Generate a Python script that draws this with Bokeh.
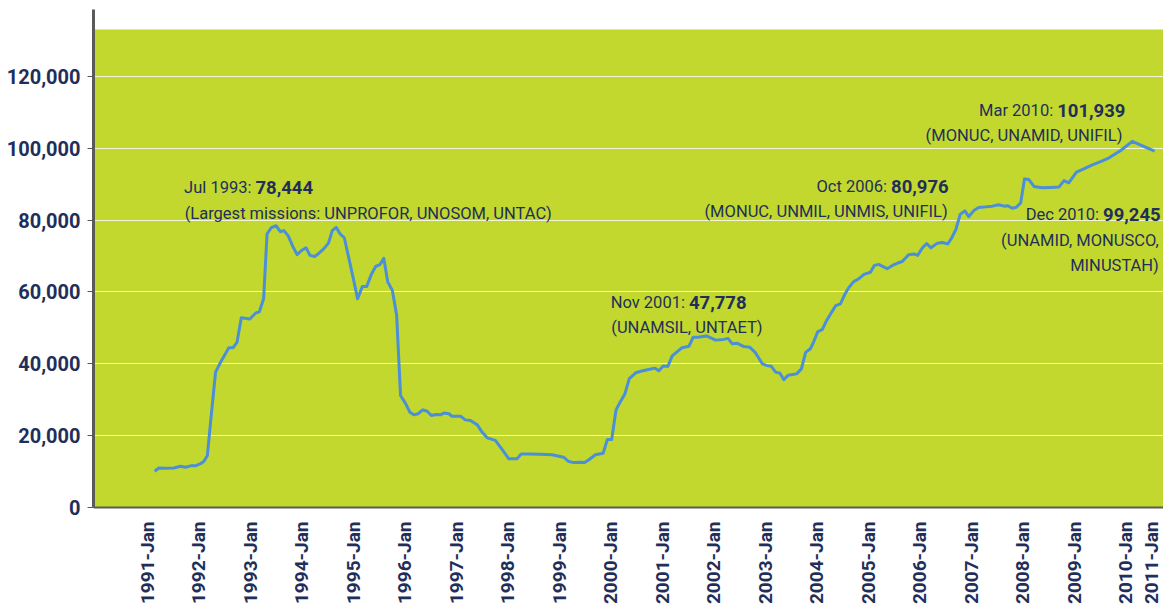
import math
from bokeh.plotting import figure
from bokeh.models import Range1d, BoxAnnotation, FixedTicker, NumeralTickFormatter
from bokeh.core.properties import value
from bokeh.embed import file_html
from bokeh.resources import INLINE

# ---------------- data ----------------
# x: position in months, counted from the "1991-Jan" category label
months = [1.7, 2.7, 4.2, 6.2, 7.7, 8.9, 10.1, 11.2, 12.4, 13.2,
          14.0, 14.7, 15.9, 17.1, 19.0, 20.0, 20.9, 21.9, 23.9, 25.2,
          26.1, 27.1, 27.9, 28.9, 30.0, 31.0, 31.8, 32.8, 33.9, 34.9,
          36.1, 37.0, 37.9, 39.0, 40.0, 41.1, 42.2, 43.1, 44.0, 44.9,
          45.9, 47.0, 48.1, 49.0, 50.1, 51.1, 52.2, 53.2, 54.2, 55.1,
          56.0, 57.1, 58.1, 59.0, 60.2, 61.2, 62.1, 63.1, 64.2, 65.2,
          66.2, 67.2, 68.3, 69.1, 70.3, 71.0, 73.0, 74.1, 75.3, 76.9,
          78.0, 79.2, 81.1, 82.7, 84.2, 86.2, 87.1, 88.5, 91.6, 94.3,
          97.0, 98.2, 99.4, 100.9, 101.9, 102.9, 104.4, 106.2, 107.2, 108.2,
          109.2, 110.2, 111.3, 112.3, 113.8, 115.2, 116.8, 118.3, 119.2, 120.2,
          121.3, 122.3, 123.5, 124.6, 126.2, 127.2, 128.3, 130.3, 132.4, 134.3,
          135.3, 136.3, 137.5, 139.0, 140.4, 141.7, 143.3, 144.4, 145.4, 146.4,
          147.4, 148.3, 149.3, 151.3, 152.4, 153.4, 154.5, 155.3, 156.2, 157.3,
          158.3, 159.2, 160.4, 161.5, 162.5, 163.5, 164.6, 165.8, 167.0, 168.5,
          169.4, 170.4, 172.4, 173.6, 174.7, 175.9, 177.4, 178.6, 179.5, 180.6,
          181.6, 182.6, 184.1, 185.2, 186.5, 187.4, 188.4, 189.4, 190.5, 191.4,
          192.6, 193.7, 195.4, 196.9, 198.4, 199.6, 200.5, 201.5, 202.5, 203.5,
          204.4, 205.4, 206.6, 208.5, 210.5, 212.4, 213.6, 214.7, 216.5, 218.2,
          220.2, 222.1, 224.0, 226.8, 229.5, 234.7]

# troops, in thousands
troops_k = [10.1, 11.0, 10.9, 11.0, 11.5, 11.2, 11.6, 11.6, 12.2, 12.9,
            14.5, 23.3, 37.7, 40.5, 44.5, 44.5, 46.0, 52.8, 52.5, 54.1,
            54.5, 58.1, 76.2, 77.9, 78.444, 76.8, 77.1, 75.7, 72.7, 70.4,
            71.7, 72.3, 70.2, 69.9, 70.8, 72.0, 73.6, 77.1, 78.0, 76.2,
            75.1, 69.2, 63.2, 58.1, 61.5, 61.5, 64.9, 67.1, 67.6, 69.4,
            62.9, 60.4, 53.5, 31.2, 28.9, 26.5, 25.8, 26.1, 27.2, 26.8,
            25.6, 25.9, 25.8, 26.3, 26.1, 25.4, 25.4, 24.4, 24.2, 23.0,
            21.0, 19.4, 18.7, 16.1, 13.6, 13.6, 14.9, 14.9, 14.8, 14.7,
            14.0, 12.8, 12.5, 12.6, 12.5, 13.3, 14.7, 15.1, 18.9, 18.9,
            27.1, 29.4, 31.7, 35.9, 37.5, 38.0, 38.4, 38.8, 38.1, 39.4,
            39.3, 42.2, 43.4, 44.5, 44.9, 47.4, 47.4, 47.778, 46.6, 46.8,
            47.1, 45.6, 45.7, 44.8, 44.6, 43.1, 40.0, 39.5, 39.3, 37.7,
            37.4, 35.6, 36.8, 37.2, 38.6, 43.2, 44.2, 46.2, 48.9, 49.6,
            52.1, 53.9, 56.2, 56.7, 59.3, 61.3, 62.9, 63.7, 64.9, 65.5,
            67.4, 67.7, 66.5, 67.4, 68.0, 68.5, 70.4, 70.6, 70.2, 72.3,
            73.5, 72.3, 73.6, 73.8, 73.4, 75.0, 77.4, 81.6, 82.6, 80.976,
            82.7, 83.5, 83.7, 83.9, 84.3, 83.9, 84.0, 83.3, 83.6, 84.8,
            91.5, 91.3, 89.4, 89.0, 89.1, 89.2, 91.0, 90.4, 93.4, 94.3,
            95.4, 96.3, 97.3, 99.4, 101.939, 99.245]
troops = [round(v * 1000) for v in troops_k]

tick_months = [0, 12, 24, 36, 48, 60, 72, 84, 96, 108, 120, 132, 144, 156,
               168, 180, 192, 204, 216, 228, 234.7]
tick_labels = ["1991-Jan", "1992-Jan", "1993-Jan", "1994-Jan", "1995-Jan",
               "1996-Jan", "1997-Jan", "1998-Jan", "1999-Jan", "2000-Jan",
               "2001-Jan", "2002-Jan", "2003-Jan", "2004-Jan", "2005-Jan",
               "2006-Jan", "2007-Jan", "2008-Jan", "2009-Jan", "2010-Jan",
               "2011-Jan"]
y_ticks = [0, 20000, 40000, 60000, 80000, 100000, 120000]

# annotations: "prefix:" + bold value, then detail lines
note_prefix = ["Jul 1993:", "Nov 2001:", "Oct 2006:", "Mar 2010:", "Dec 2010:"]
note_value = ["78,444", "47,778", "80,976", "101,939", "99,245"]
note_x = [25.2, 126.2, 173.3, 212.0, 222.7]
note_y = [89200, 57200, 89400, 110500, 81600]

detail_left_text = ["(Largest missions: UNPROFOR, UNOSOM, UNTAC)", "(UNAMSIL, UNTAET)"]
detail_left_x = [8.7, 108.1]
detail_left_y = [81800, 50000]

detail_right_text = ["(MONUC, UNMIL, UNMIS, UNIFIL)", "(MONUC, UNAMID, UNIFIL)",
                     "(UNAMID, MONUSCO,", "MINUSTAH)"]
detail_right_x = [186.5, 227.2, 235.7, 235.7]
detail_right_y = [82400, 103700, 74300, 67400]

# ---------------- styling ----------------
GREEN = "#c2d82f"
NAVY = "#1f2f5a"
LINE = "#4b8fd8"
AXIS = "#5a5a5a"
REG_FONT = "Roboto"
BOLD_FONT = "Roboto"

p = figure(width=1163, height=609, output_backend="svg", toolbar_location=None,
           tools="", x_range=Range1d(-12.54, 236.78),
           y_range=Range1d(-28399, 138653),
           min_border_left=93, min_border_right=0, min_border_top=9,
           min_border_bottom=0)
p.outline_line_color = None
p.background_fill_color = "white"
p.border_fill_color = "white"

p.add_layout(BoxAnnotation(bottom=0, top=133085, fill_color=GREEN, fill_alpha=1.0,
                           line_color=None, level="image"))

p.xgrid.visible = False
p.ygrid.ticker = FixedTicker(ticks=y_ticks)
p.ygrid.grid_line_color = "#f2f6d4"
p.ygrid.grid_line_width = 1.2

# y axis
p.yaxis.ticker = FixedTicker(ticks=y_ticks)
p.yaxis.formatter = NumeralTickFormatter(format="0,0")
p.yaxis.bounds = (0, 138653)
p.yaxis.axis_line_color = AXIS
p.yaxis.axis_line_width = 3
p.yaxis.major_tick_out = 6
p.yaxis.major_tick_in = 0
p.yaxis.major_tick_line_color = AXIS
p.yaxis.minor_tick_line_color = None
p.yaxis.major_label_standoff = 7
p.yaxis.major_label_text_font = BOLD_FONT
p.yaxis.major_label_text_font_style = "bold"
p.yaxis.major_label_text_font_size = "20px"
p.yaxis.major_label_text_color = NAVY

# x axis
p.xaxis.fixed_location = 0
p.xaxis.ticker = FixedTicker(ticks=tick_months)
p.xaxis.major_label_overrides = {m: lab for m, lab in zip(tick_months, tick_labels)}
p.xaxis.major_label_orientation = math.pi / 2
p.xaxis.axis_line_color = AXIS
p.xaxis.axis_line_width = 2
p.xaxis.major_tick_line_color = None
p.xaxis.minor_tick_line_color = None
p.xaxis.major_tick_out = 0
p.xaxis.major_tick_in = 0
p.xaxis.major_label_standoff = 14
p.xaxis.major_label_text_font = BOLD_FONT
p.xaxis.major_label_text_font_style = "bold"
p.xaxis.major_label_text_font_size = "19px"
p.xaxis.major_label_text_color = NAVY

# data line
p.line(months, troops, line_color=LINE, line_width=3, line_join="round")

# annotations
p.text(x=note_x, y=note_y, text=note_prefix, x_offset=-4,
       text_font=value(REG_FONT), text_font_size="16.5px", text_color=NAVY,
       text_align="right", text_baseline="alphabetic")
p.text(x=note_x, y=note_y, text=note_value,
       text_font=value(BOLD_FONT), text_font_style="bold", text_font_size="18.5px",
       text_color=NAVY, text_align="left", text_baseline="alphabetic")
p.text(x=detail_left_x, y=detail_left_y, text=detail_left_text,
       text_font=value(REG_FONT), text_font_size="16.5px", text_color=NAVY,
       text_align="left", text_baseline="alphabetic")
p.text(x=detail_right_x, y=detail_right_y, text=detail_right_text,
       text_font=value(REG_FONT), text_font_size="16.5px", text_color=NAVY,
       text_align="right", text_baseline="alphabetic")

open("out.html", "w").write(file_html(p, INLINE))
